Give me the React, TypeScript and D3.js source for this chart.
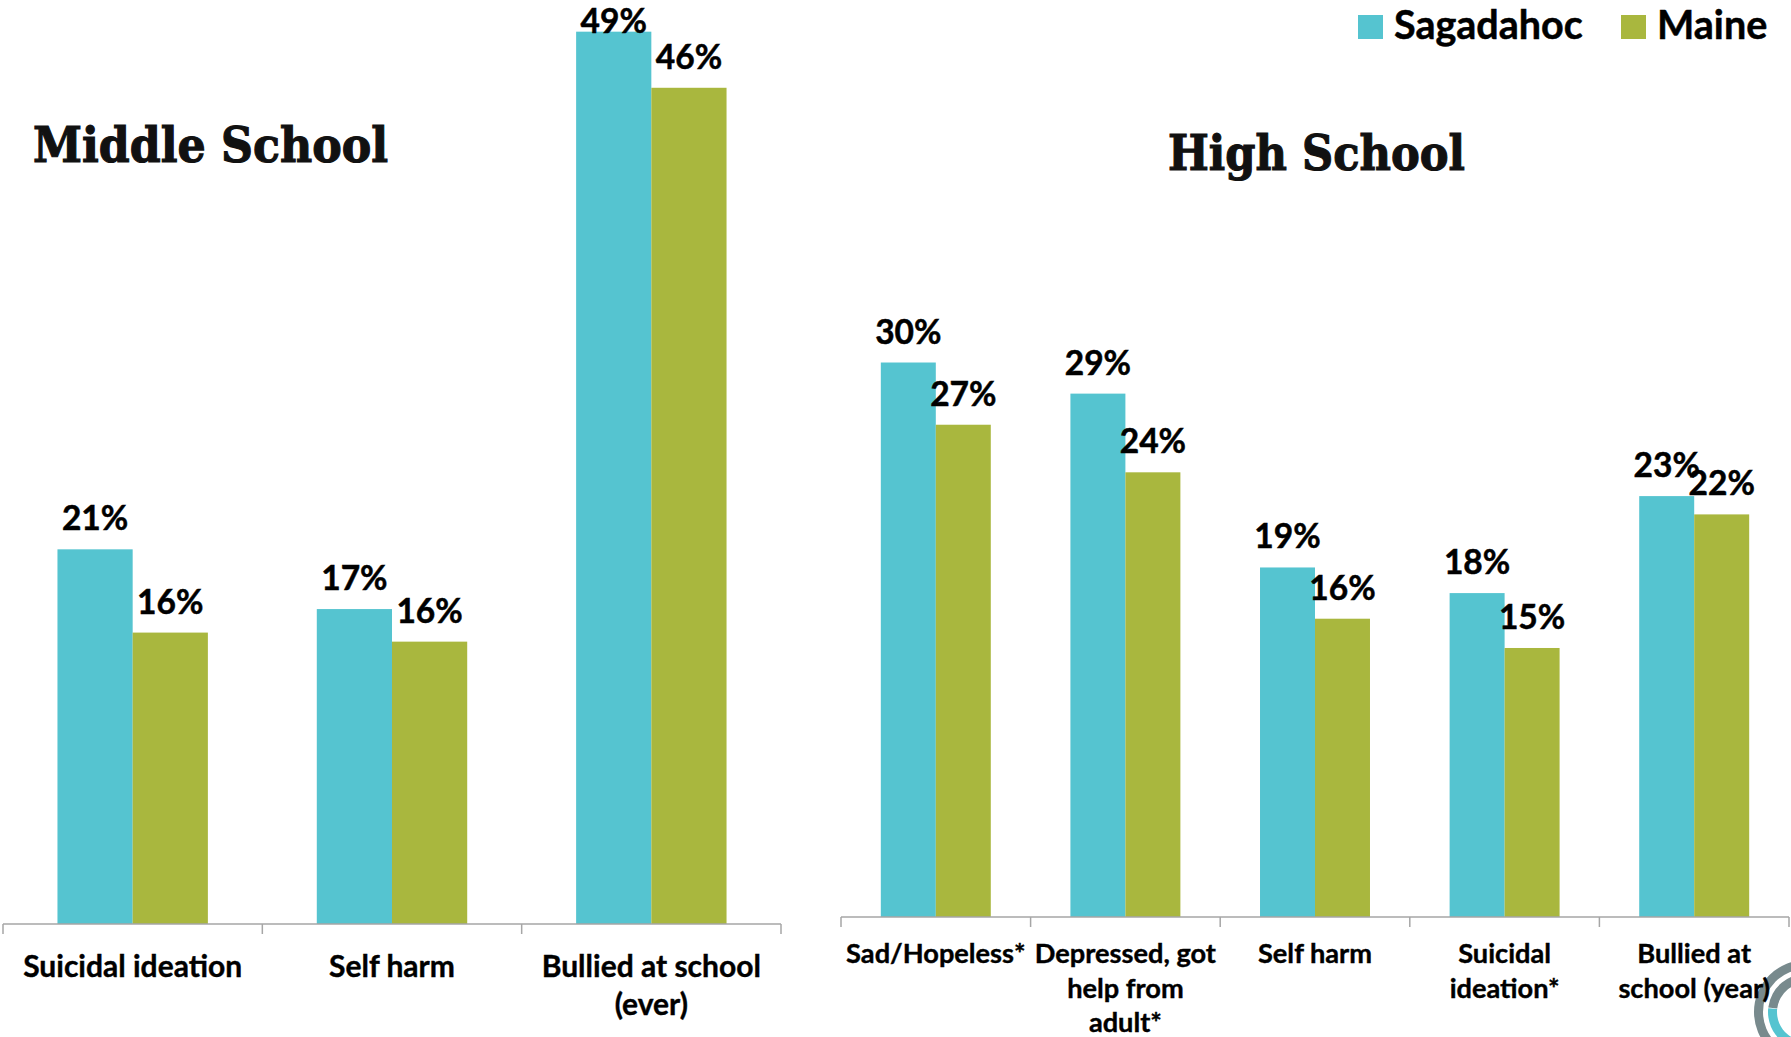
import React from "react";
import * as d3 from "d3";

const W = 1791;
const H = 1037;

const seriesNames = ["Sagadahoc", "Maine"];
const seriesColors = ["#55C4D0", "#A9B73E"];

const msCategories = ["Suicidal ideation", "Self harm", "Bullied at school\n(ever)"];
const msSagadahoc = [0.207, 0.174, 0.493];
const msMaine = [0.161, 0.156, 0.462];

const hsCategories = [
  "Sad/Hopeless*",
  "Depressed, got\nhelp from\nadult*",
  "Self harm",
  "Suicidal\nideation*",
  "Bullied at\nschool (year)",
];
const hsSagadahoc = [0.303, 0.286, 0.191, 0.177, 0.23];
const hsMaine = [0.269, 0.243, 0.163, 0.147, 0.22];

const FONT = "Lato, Carlito, Calibri, 'Open Sans', sans-serif";
const SLAB = "'DejaVu Serif', serif";
const fmt = d3.format(".0%");

type PanelProps = {
  title: string;
  titleX: number;
  titleY: number;
  titleLen: number;
  categories: string[];
  values: number[][];
  x0: number;
  x1: number;
  baseline: number;
  pxPerUnit: number;
  catY: number;
  catLine: number;
  catSize: number;
};

function Panel(p: PanelProps) {
  const x = d3.scaleBand<string>().domain(p.categories).range([p.x0, p.x1]).paddingInner(0.42).paddingOuter(0.21);
  const xs = d3.scaleBand<string>().domain(seriesNames).range([0, x.bandwidth()]).padding(0);
  const y = d3.scaleLinear().domain([0, 0.5]).range([p.baseline, p.baseline - 0.5 * p.pxPerUnit]);
  const step = (p.x1 - p.x0) / p.categories.length;
  const ticks = d3.range(p.categories.length + 1).map((i) => p.x0 + i * step);
  return (
    <g>
      <text
        x={p.titleX}
        y={p.titleY}
        fontFamily={SLAB}
        fontWeight="bold"
        fontSize={49}
        textLength={p.titleLen}
        lengthAdjust="spacingAndGlyphs"
        fill="#111"
        stroke="#111"
        strokeWidth={1.2}
      >
        {p.title}
      </text>
      {p.categories.map((c, ci) =>
        seriesNames.map((s, si) => {
          const v = p.values[si][ci];
          const bx = (x(c) as number) + (xs(s) as number);
          const bw = xs.bandwidth();
          return (
            <rect key={c + s} x={bx} y={y(v)} width={bw} height={p.baseline - y(v)} fill={seriesColors[si]} />
          );
        })
      )}
      <line x1={p.x0} x2={p.x1} y1={p.baseline} y2={p.baseline} stroke="#a6a6a6" strokeWidth={1.5} />
      {ticks.map((t, i) => (
        <line key={i} x1={t} x2={t} y1={p.baseline} y2={p.baseline + 10} stroke="#a6a6a6" strokeWidth={1.5} />
      ))}
      {p.categories.map((c, ci) =>
        seriesNames.map((s, si) => {
          const v = p.values[si][ci];
          const cx = (x(c) as number) + (xs(s) as number) + xs.bandwidth() / 2;
          const ly = Math.max(y(v) - 19, 33);
          return (
            <text
              key={"l" + c + s}
              x={cx}
              y={ly}
              textAnchor="middle"
              fontFamily={FONT}
              fontWeight="bold"
              fontSize={33.5}
              fill="#000"
              stroke="#000"
              strokeWidth={0.5}
            >
              {fmt(v)}
            </text>
          );
        })
      )}
      {p.categories.map((c) => {
        const cx = (x(c) as number) + x.bandwidth() / 2;
        const lines = c.split("\n");
        return (
          <text
            key={"c" + c}
            textAnchor="middle"
            fontFamily={FONT}
            fontWeight="bold"
            fontSize={p.catSize}
            fill="#000"
            stroke="#000"
            strokeWidth={0.4}
          >
            {lines.map((ln, li) => (
              <tspan key={li} x={cx} y={p.catY + li * p.catLine}>
                {ln}
              </tspan>
            ))}
          </text>
        );
      })}
    </g>
  );
}

function Logo() {
  const cx = 1806;
  const cy = 1012;
  const outer = d3.arc()({ innerRadius: 43, outerRadius: 52, startAngle: 0, endAngle: 2 * Math.PI }) as string;
  const innerGrey = d3.arc()({ innerRadius: 29, outerRadius: 38, startAngle: 1.5 * Math.PI + 0.12, endAngle: 3 * Math.PI }) as string;
  const innerTeal = d3.arc()({ innerRadius: 29, outerRadius: 38, startAngle: 0.9 * Math.PI, endAngle: 1.5 * Math.PI + 0.1 }) as string;
  return (
    <g transform={`translate(${cx},${cy})`}>
      <path d={outer} fill="#788a8d" />
      <path d={innerGrey} fill="#788a8d" />
      <path d={innerTeal} fill="#55C4D0" />
    </g>
  );
}

export default function App() {
  const legendX = [1358, 1621];
  return (
    <div style={{ position: "absolute", left: 0, top: 0, width: W, height: H, background: "#fff" }}>
      <svg width={W} height={H} viewBox={`0 0 ${W} ${H}`} style={{ display: "block" }}>
        <rect width={W} height={H} fill="#fff" />
        <Logo />
        <Panel
          title="Middle School"
          titleX={33}
          titleY={162}
          titleLen={355}
          categories={msCategories}
          values={[msSagadahoc, msMaine]}
          x0={3}
          x1={781}
          baseline={924}
          pxPerUnit={1810}
          catY={977}
          catLine={38}
          catSize={30}
        />
        <Panel
          title="High School"
          titleX={1168}
          titleY={170}
          titleLen={297}
          categories={hsCategories}
          values={[hsSagadahoc, hsMaine]}
          x0={841}
          x1={1789}
          baseline={917}
          pxPerUnit={1830}
          catY={963}
          catLine={34.5}
          catSize={27.2}
        />
        {seriesNames.map((s, i) => (
          <g key={s}>
            <rect x={legendX[i]} y={15} width={25} height={24} fill={seriesColors[i]} />
            <text
              x={legendX[i] + 36}
              y={39}
              fontFamily={FONT}
              fontWeight="bold"
              fontSize={39.5}
              fill="#000"
              stroke="#000"
              strokeWidth={0.5}
            >
              {s}
            </text>
          </g>
        ))}
      </svg>
    </div>
  );
}
